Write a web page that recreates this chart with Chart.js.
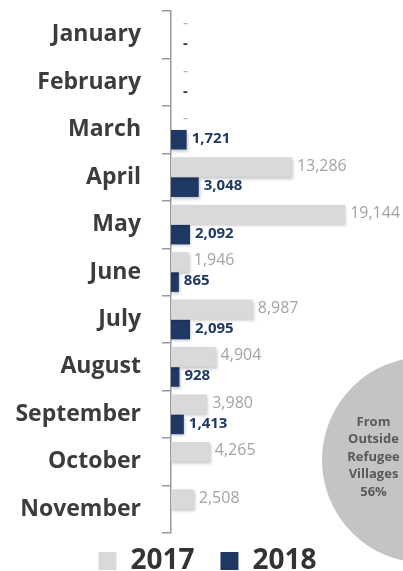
<!DOCTYPE html>
<html>
<head>
<meta charset="utf-8">
<script src="https://cdn.jsdelivr.net/npm/chart.js@4.4.1/dist/chart.umd.min.js"></script>
<style>
html, body { margin:0; padding:0; width:403px; height:571px; overflow:hidden; background:#fff; }
#wrap { position:absolute; left:0; top:0; width:403px; height:571px; }
#pie { position:absolute; left:322px; top:357px; }
</style>
</head>
<body>
<div id="wrap"><canvas id="barchart"></canvas></div>
<canvas id="pie" width="206" height="206"></canvas>
<script>
var months = ["January", "February", "March", "April", "May", "June", "July", "August", "September", "October", "November"];
// 0 shows as "-" (no arrivals), null = no data yet
var arrivals2017 = [0, 0, 0, 13286, 19144, 1946, 8987, 4904, 3980, 4265, 2508];
var arrivals2018 = [0, 0, 1721, 3048, 2092, 865, 2095, 928, 1413, null, null];
var pieLabels = [["From", "Outside", "Refugee", "Villages"], ["From", "Refugee", "Villages"]];
var pieValues = [56, 44];

Chart.defaults.font.family = "'Open Sans', sans-serif";

function fmt(v) {
    return String(v).replace(/\B(?=(\d{3})+(?!\d))/g, ",");
}

var barShadow = {
    id: 'barShadow',
    beforeDatasetsDraw: function(chart) {
        var ctx = chart.ctx;
        ctx.save();
        ctx.shadowColor = 'rgba(0,0,0,0.22)';
        ctx.shadowBlur = 3;
        ctx.shadowOffsetX = 1;
        ctx.shadowOffsetY = 2;
    },
    afterDatasetsDraw: function(chart) {
        chart.ctx.restore();
    }
};

var valueLabels = {
    id: 'valueLabels',
    afterDatasetsDraw: function(chart) {
        var ctx = chart.ctx;
        chart.data.datasets.forEach(function(ds, i) {
            chart.getDatasetMeta(i).data.forEach(function(bar, j) {
                var v = ds.data[j];
                if (v === null) return;
                ctx.save();
                ctx.font = ds.labelFont;
                ctx.fillStyle = v === 0 ? ds.dashColor : ds.labelColor;
                ctx.textBaseline = 'middle';
                ctx.fillText(v === 0 ? '-' : fmt(v), bar.x + (v === 0 ? 12 : 5), bar.y - 1);
                ctx.restore();
            });
        });
    }
};

new Chart(document.getElementById("barchart"), {
    type: 'bar',
    data: {
        labels: months,
        datasets: [
            {
                label: "2017",
                data: arrivals2017,
                backgroundColor: "#d9d9d9",
                labelColor: "#a3a3a3",
                dashColor: "#b0b0b0",
                labelFont: "16px 'Open Sans', sans-serif",
                categoryPercentage: 0.85,
                barPercentage: 0.97
            },
            {
                label: "2018",
                data: arrivals2018,
                backgroundColor: "#1f3864",
                labelColor: "#1f3864",
                dashColor: "#333333",
                labelFont: "bold 15px 'Open Sans', sans-serif",
                categoryPercentage: 0.85,
                barPercentage: 0.97
            }
        ]
    },
    plugins: [barShadow, valueLabels],
    options: {
        indexAxis: 'y',
        responsive: true,
        maintainAspectRatio: false,
        animation: false,
        layout: { padding: { top: 11, bottom: -14, left: 12, right: 0 } },
        scales: {
            x: { display: false, min: 0, max: 25500 },
            y: {
                afterFit: function(scale) {
                    scale.width = 159;
                    scale.paddingTop = 0;
                    scale.paddingBottom = 0;
                },
                grid: { drawOnChartArea: false, tickLength: 9, color: '#9a9a9a', lineWidth: 1.5 },
                border: { color: '#9a9a9a', width: 1.5 },
                ticks: { color: '#3c3c3c', padding: 21, font: { size: 23, weight: 'bold' } }
            }
        },
        plugins: {
            tooltip: { enabled: false },
            legend: {
                position: 'bottom',
                labels: {
                    color: '#333', boxWidth: 18, boxHeight: 18, padding: 14,
                    font: { size: 28, weight: 'bold' },
                    generateLabels: function(chart) {
                        var items = Chart.defaults.plugins.legend.labels.generateLabels(chart);
                        for (var k = 0; k < items.length - 1; k++) items[k].text += " \u2009";
                        return items;
                    }
                }
            }
        }
    }
});

var pieText = {
    id: 'pieText',
    afterDatasetsDraw: function(chart) {
        var ctx = chart.ctx;
        var ds = chart.data.datasets[0];
        chart.getDatasetMeta(0).data.forEach(function(arc, i) {
            var p = arc.tooltipPosition();
            var lines = chart.data.labels[i].concat([ds.data[i] + "%"]);
            ctx.save();
            ctx.font = "bold 13px 'Open Sans', sans-serif";
            ctx.fillStyle = '#595959';
            ctx.textAlign = 'center';
            ctx.textBaseline = 'middle';
            var lh = 17.5;
            var y0 = p.y - 3 - (lines.length - 1) / 2 * lh;
            lines.forEach(function(t, k) { ctx.fillText(t, p.x, y0 + k * lh); });
            ctx.restore();
        });
    }
};

new Chart(document.getElementById("pie"), {
    type: 'pie',
    data: {
        labels: pieLabels,
        datasets: [{
            data: pieValues,
            backgroundColor: ["#c4c4c4", "#1f3864"],
            borderWidth: 0
        }]
    },
    plugins: [pieText],
    options: {
        responsive: false,
        animation: false,
        rotation: 169.2,
        layout: { padding: 0 },
        plugins: { legend: { display: false }, tooltip: { enabled: false } }
    }
});
</script>
</body>
</html>
